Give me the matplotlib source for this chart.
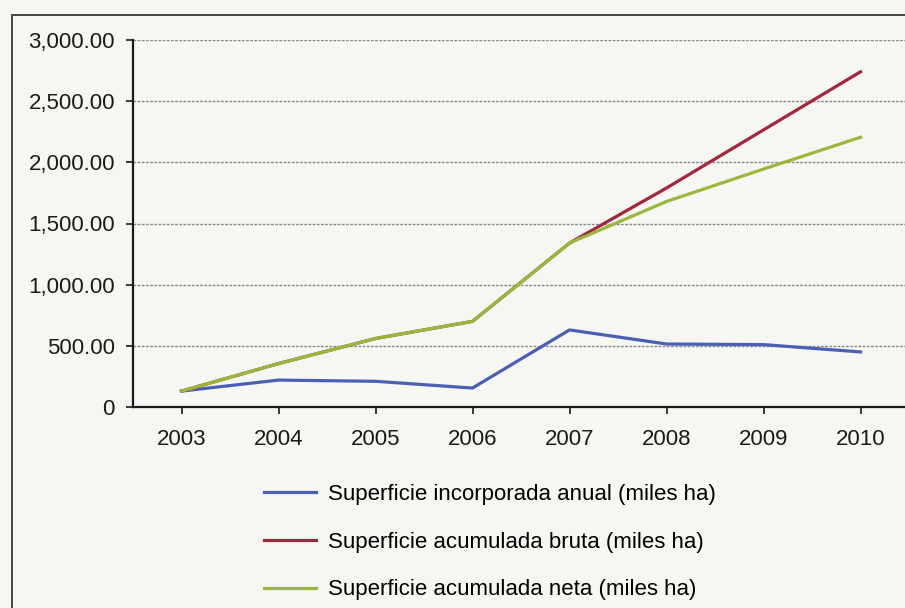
import numpy as np
import matplotlib.pyplot as plt
from matplotlib.ticker import FuncFormatter
from matplotlib.patches import Rectangle

# data (miles ha)
years = ["2003", "2004", "2005", "2006", "2007", "2008", "2009", "2010"]
anual = [130, 220, 210, 155, 630, 515, 510, 450]
bruta = [130, 355, 560, 700, 1340, 1790, 2265, 2740]
neta = [130, 355, 560, 700, 1340, 1680, 1945, 2205]

labels = ["Superficie incorporada anual (miles ha)",
          "Superficie acumulada bruta (miles ha)",
          "Superficie acumulada neta (miles ha)"]

plt.rcParams['font.family'] = ['Liberation Sans', 'DejaVu Sans']

fig = plt.figure(figsize=(9.05, 6.08), dpi=100, facecolor='#f6f6f3')
ax = fig.add_axes([133 / 905, 1 - 407 / 608, 776 / 905, 367 / 608])
ax.set_facecolor('none')

x = np.arange(len(years))
l1, = ax.plot(x, anual, color='#4b5fb3', lw=2.3, label=labels[0])
l2, = ax.plot(x, bruta, color='#a3263c', lw=2.3, label=labels[1])
l3, = ax.plot(x, neta, color='#9cb83c', lw=2.3, label=labels[2])

ax.set_xlim(-0.5, len(years) - 0.5)
ax.set_ylim(0, 3000)
ax.set_yticks(np.arange(0, 3001, 500))
ax.yaxis.set_major_formatter(FuncFormatter(lambda v, p: "0" if v == 0 else f"{v:,.2f}"))
ax.set_xticks(x)
ax.set_xticklabels(years)
ax.grid(axis='y', color='#8a8a8a', lw=1.0, ls=(0, (2, 1)))
ax.set_axisbelow(True)

for s in ['top', 'right']:
    ax.spines[s].set_visible(False)
for s in ['left', 'bottom']:
    ax.spines[s].set_color('#1a1a1a')
    ax.spines[s].set_linewidth(1.6)
ax.tick_params(axis='y', labelsize=16, length=5, width=1.2, pad=8, colors='#1a1a1a')
ax.tick_params(axis='x', labelsize=16, length=5, width=1.2, pad=11, colors='#1a1a1a')

fig.legend(handles=[l1, l2, l3], loc='upper left',
           bbox_to_anchor=(264 / 905, 1 - 484 / 608), frameon=False,
           fontsize=16, handlelength=2.35, handletextpad=0.55,
           labelspacing=1.2, borderpad=0, borderaxespad=0)

# frame around the figure as in the scanned page
fig.patches.append(Rectangle((12 / 905, -0.01), 1.0, 1 - 15 / 608 + 0.01,
                             transform=fig.transFigure, fill=False,
                             edgecolor='#444444', lw=1.4))

fig.savefig("out.png", dpi=100, facecolor=fig.get_facecolor())
